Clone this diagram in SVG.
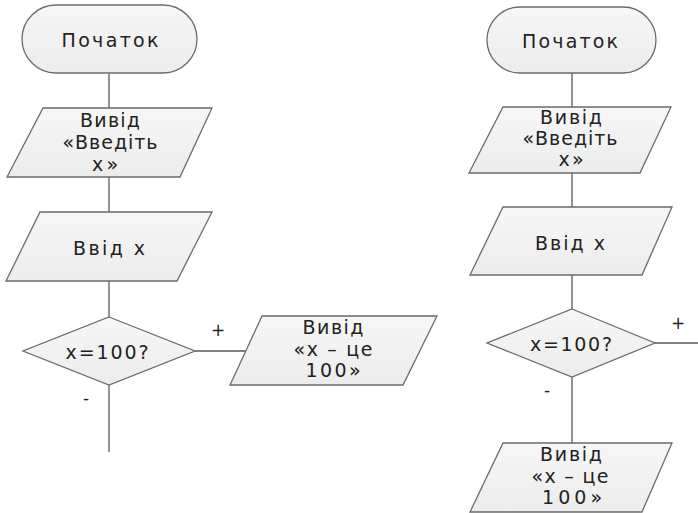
<svg xmlns="http://www.w3.org/2000/svg" width="698" height="513" viewBox="0 0 698 513">
<defs>
<linearGradient id="g" x1="0" y1="0" x2="0" y2="1"><stop offset="0" stop-color="#f7f7f7"/><stop offset="1" stop-color="#ececec"/></linearGradient>
<style>
.s{fill:url(#g);stroke:#6b6b6b;stroke-width:1.3}
.c{fill:none;stroke:#5a5a5a;stroke-width:1.3}
text{font-family:"DejaVu Sans","Liberation Sans",sans-serif;font-size:19px;fill:#222;text-anchor:middle;dominant-baseline:central}
.l{font-size:17px}
</style>
</defs>
<rect width="698" height="513" fill="#fff"/>
<g id="connectors">
<line class="c" x1="109" y1="74" x2="109" y2="108"/>
<line class="c" x1="109" y1="177" x2="109" y2="212"/>
<line class="c" x1="109" y1="281" x2="109" y2="317"/>
<line class="c" x1="109" y1="385" x2="109" y2="452"/>
<line class="c" x1="195" y1="351" x2="247" y2="351"/>
<text class="l" x="218" y="330">+</text>
<text class="l" x="86" y="398">-</text>
<line class="c" x1="572" y1="73" x2="572" y2="107"/>
<line class="c" x1="572" y1="173" x2="572" y2="207"/>
<line class="c" x1="572" y1="275" x2="572" y2="309"/>
<line class="c" x1="572" y1="377" x2="572" y2="443"/>
<line class="c" x1="655" y1="343" x2="698" y2="343"/>
<text class="l" x="678" y="323">+</text>
<text class="l" x="547" y="390">-</text>
</g>
<g id="start1"><rect class="s" x="22" y="5" width="175" height="68" rx="34"/><text x="110" y="40" textLength="97" lengthAdjust="spacing">Початок</text></g>
<g id="out1"><polygon class="s" points="43,108 212,108 180,177 7,177"/>
<text x="110" y="120" textLength="60" lengthAdjust="spacing">Вивід</text>
<text x="110" y="142" textLength="95" lengthAdjust="spacing">«Введіть</text>
<text x="105" y="164" textLength="26" lengthAdjust="spacing">x»</text></g>
<g id="in1"><polygon class="s" points="40,212 212,212 177,281 6,281"/><text x="109" y="248" textLength="72" lengthAdjust="spacing">Ввід x</text></g>
<g id="dec1"><polygon class="s" points="109,317 195,351 109,385 23,351"/><text x="107" y="352" textLength="83" lengthAdjust="spacing">x=100?</text></g>
<g id="out2"><polygon class="s" points="262,316 437,316 403,385 230,385"/>
<text x="333" y="327" textLength="61" lengthAdjust="spacing">Вивід</text>
<text x="333" y="349" textLength="79" lengthAdjust="spacing">«x – це</text>
<text x="333" y="370" textLength="55" lengthAdjust="spacing">100»</text></g>
<g id="start2"><rect class="s" x="487" y="7" width="169" height="66" rx="33"/><text x="570" y="41" textLength="96" lengthAdjust="spacing">Початок</text></g>
<g id="out3"><polygon class="s" points="503,107 671,107 640,173 469,173"/>
<text x="571" y="117" textLength="62" lengthAdjust="spacing">Вивід</text>
<text x="570" y="138" textLength="95" lengthAdjust="spacing">«Введіть</text>
<text x="571" y="159" textLength="25" lengthAdjust="spacing">x»</text></g>
<g id="in2"><polygon class="s" points="503,207 672,207 642,275 470,275"/><text x="570" y="243" textLength="70" lengthAdjust="spacing">Ввід x</text></g>
<g id="dec2"><polygon class="s" points="572,309 655,343 572,377 487,343"/><text x="571" y="344" textLength="82" lengthAdjust="spacing">x=100?</text></g>
<g id="out4"><polygon class="s" points="503,443 672,443 642,512 470,512"/>
<text x="571" y="454" textLength="62" lengthAdjust="spacing">Вивід</text>
<text x="570" y="476" textLength="77" lengthAdjust="spacing">«x – це</text>
<text x="572" y="497" textLength="60" lengthAdjust="spacing">100»</text></g>
</svg>
